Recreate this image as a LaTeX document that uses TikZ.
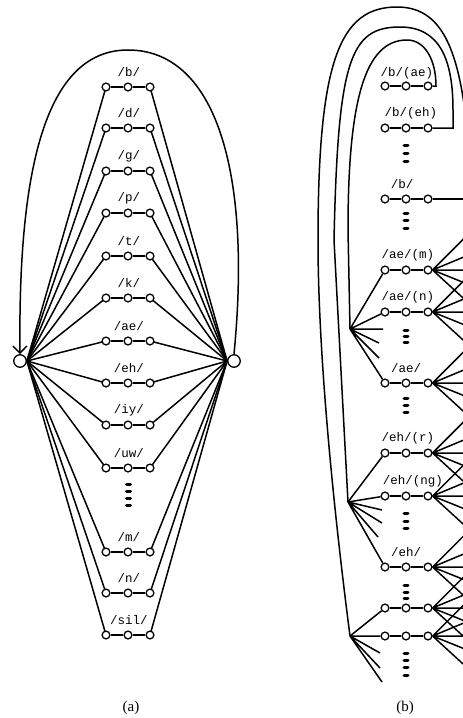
\documentclass[tikz,border=0pt]{standalone}
\usepackage{fontspec}
\setmainfont{Liberation Serif}
\setmonofont{Liberation Mono}
\usetikzlibrary{arrows.meta}
\begin{document}
\begin{tikzpicture}[x=1pt,y=-1pt,line width=1.5pt,
  st/.style={circle,draw,fill=white,inner sep=0pt,minimum size=7.8pt,line width=1.3pt},
  hub/.style={circle,draw,fill=white,inner sep=0pt,minimum size=12.5pt,line width=1.3pt},
  lab/.style={font=\ttfamily\fontsize{12.5}{13}\selectfont,inner sep=0pt},
  captext/.style={font=\fontsize{15}{17}\selectfont,inner sep=0pt},
  vdot/.style={line width=3pt,line cap=round}]
\clip (0,0) rectangle (463,718);

% ---------- (a): word-level network ----------
\node[hub] (L) at (20,361) {};
\node[hub] (R) at (234,361) {};
\foreach \nm/\yy in {b/87,d/128,g/171,p/213,t/256,k/298,ae/341,eh/383,iy/425,uw/468,m/552,n/593,sil/635}{
  \draw (L.east) -- (106,\yy) (150,\yy) -- (R.west);
  \node[st] (a\nm1) at (106,\yy) {};
  \node[st] (a\nm2) at (128,\yy) {};
  \node[st] (a\nm3) at (150,\yy) {};
  \draw (a\nm1) -- (a\nm2) -- (a\nm3);
  \node[lab] (la\nm) at (129,\yy-14.5) {/\nm/};
}
\foreach \yy in {484,491,498,505} \draw[vdot] (126.5,\yy) -- (130.5,\yy);
\draw[-{Straight Barb[length=7pt,width=14pt]}] (R.north)
  .. controls (252,170) and (215,50) .. (128,50)
  .. controls (45,50) and (18,170) .. (L.north);
\node[captext] (capa) at (131,708) {(a)};

% ---------- (b): context-dependent network ----------
\foreach \nm/\yy in {bae/86,beh/128,bb/199,aem/270,aen/312,ae/383,ehr/453,ehng/496,eh/567,ua/608,ub/636}{
  \node[st] (\nm1) at (385,\yy) {};
  \node[st] (\nm2) at (406,\yy) {};
  \node[st] (\nm3) at (428,\yy) {};
  \draw (\nm1) -- (\nm2) -- (\nm3);
}
\node[lab] at (407,73) {/b/(ae)};
\node[lab] at (411,113) {/b/(eh)};
\node[lab] at (402,184) {/b/};
\node[lab] at (408,255) {/ae/(m)};
\node[lab] at (408,297) {/ae/(n)};
\node[lab] at (406,368) {/ae/};
\node[lab] at (408,438) {/eh/(r)};
\node[lab] at (413,481) {/eh/(ng)};
\node[lab] at (406,552) {/eh/};

% outgoing fans on the right
\foreach \nm in {aem,aen,ae,ehr,ehng,eh,ua,ub}{
  \draw (\nm3.east) -- ++(36,-36) (\nm3.east) -- ++(36,-15)
        (\nm3.east) -- ++(36,0) (\nm3.east) -- ++(36,14.5)
        (\nm3.east) -- ++(36,33);
}
\draw (bb3.east) -- ++(40,0);

% branching points on the left
\coordinate (F1) at (350,329);
\coordinate (F2) at (348,502);
\coordinate (F3) at (350,636);
\draw (F1) -- (aem1) (F1) -- (aen1) (F1) -- (ae1)
      (F1) -- ++(33,0) (F1) -- ++(29,14) (F1) -- ++(29,29);
\draw (F2) -- (ehr1) (F2) -- (ehng1) (F2) -- (eh1)
      (F2) -- ++(34,8) (F2) -- ++(34,21) (F2) -- ++(30,35);
\draw (F3) -- (ua1) (F3) -- (ub1)
      (F3) -- ++(30,17) (F3) -- ++(30,32) (F3) -- ++(32,46);

% loops back over the top
\draw (F1) -- (348,230) .. controls (348,100) and (365,40) .. (407,40)
  .. controls (425,40) and (436,60) .. (436,86) -- (bae3.east);
\draw (F2) -- (334,240) .. controls (338,60) and (350,27) .. (400,27)
  .. controls (440,27) and (453,60) .. (453,110) -- (453,128) -- (beh3.east);
\draw (F3) .. controls (335,520) and (318,360) .. (318,240)
  .. controls (318,60) and (340,7) .. (397,7)
  .. controls (440,7) and (460,45) .. (468,140);

% vertical ellipses
\foreach \yy in {145,153,161,213,220,228,330,336,342,398,405,412,513,521,528,585,592,598,653,660,667,675}
  \draw[vdot] (404,\yy) -- (408,\yy);
\node[captext] (capb) at (405,708) {(b)};
\end{tikzpicture}
\end{document}
